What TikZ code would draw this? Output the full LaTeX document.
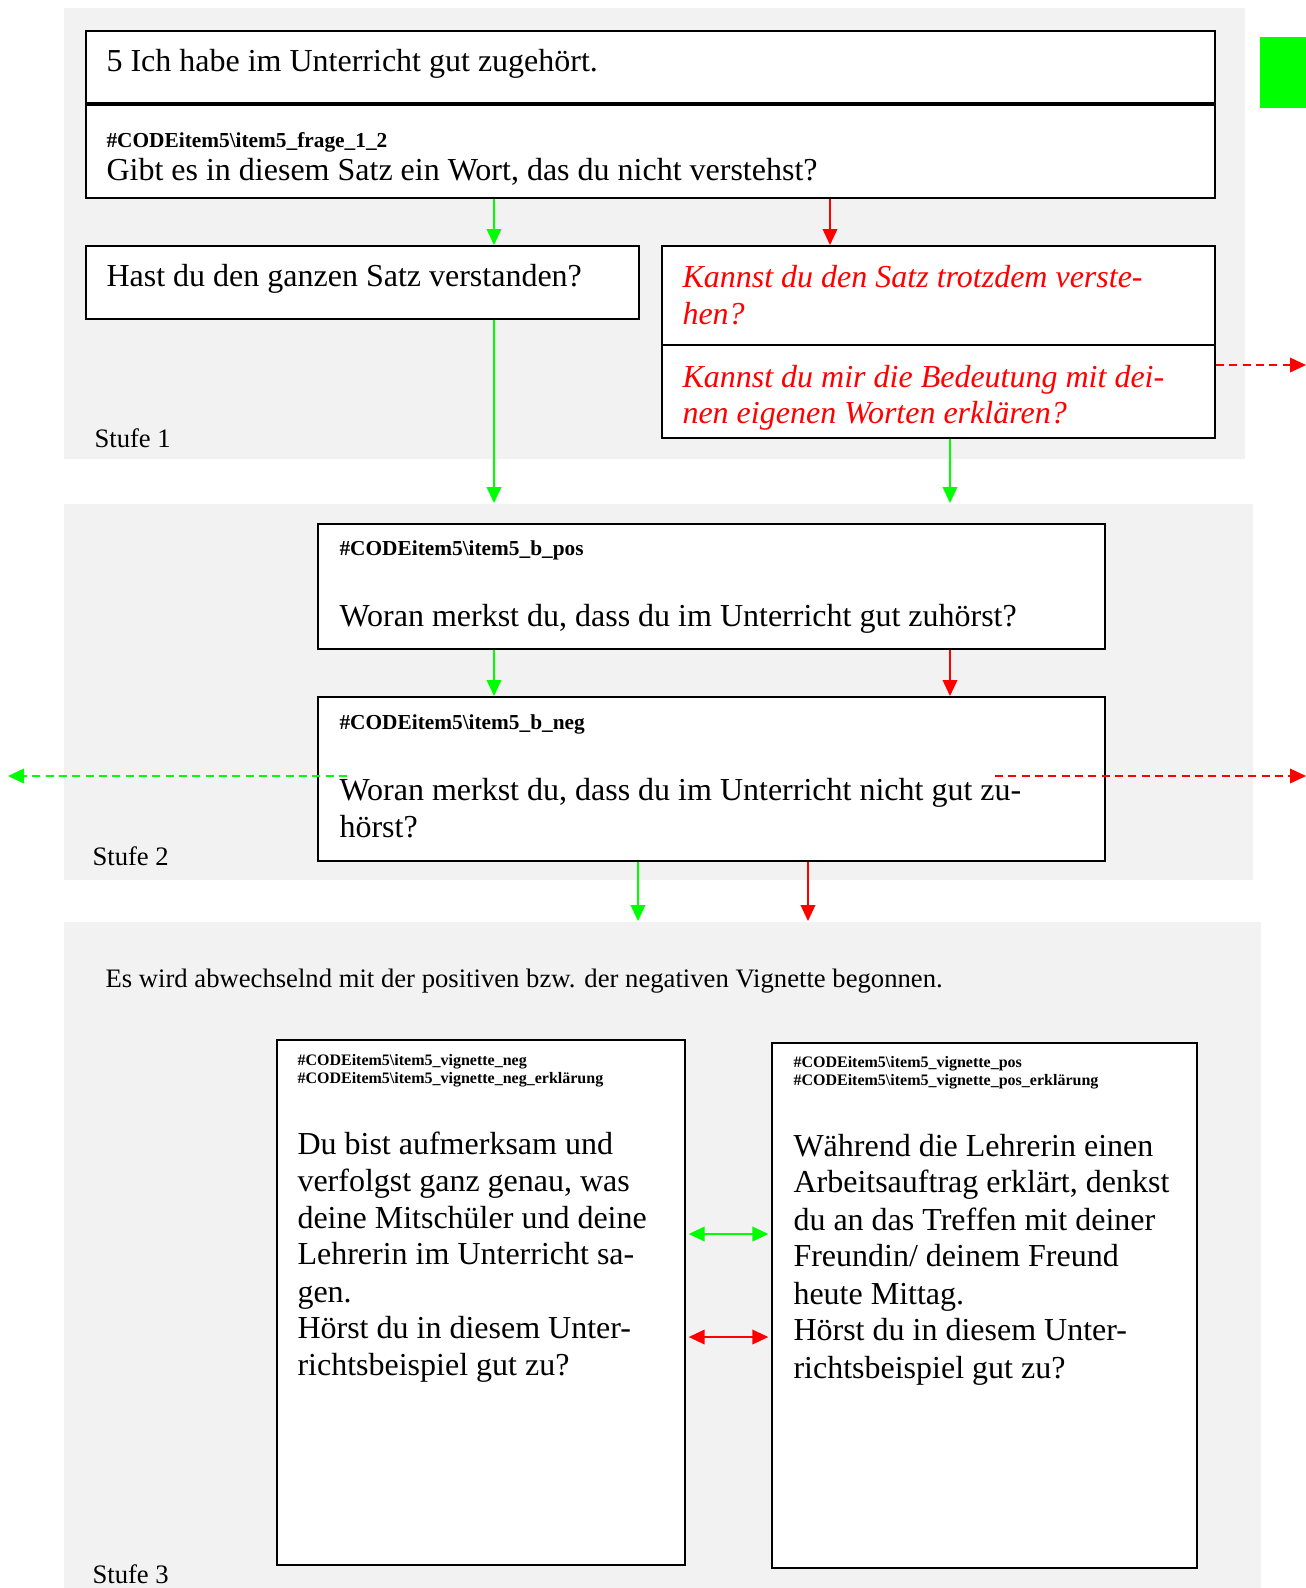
\documentclass[tikz,border=0pt]{standalone}
\usepackage{fontspec}
\setmainfont{Liberation Serif}
\usetikzlibrary{arrows.meta,fit}
\definecolor{panel}{HTML}{F2F2F2}
\definecolor{grn}{HTML}{00FF00}
\definecolor{rd}{HTML}{FF0000}
\begin{document}
\begin{tikzpicture}[x=0.375pt,y=-0.375pt,
  panelbg/.style={fill=panel,draw=none,inner sep=0pt},
  box/.style={draw=black,line width=0.75pt,fill=white,inner sep=0pt},
  txt/.style={anchor=base west,inner sep=0pt,yshift=-0.75pt,font=\fontsize{12}{14}\selectfont},
  rtxt/.style={anchor=base west,inner sep=0pt,yshift=-0.75pt,text=rd,font=\fontsize{12}{14}\selectfont\itshape},
  code/.style={anchor=base west,inner sep=0pt,yshift=-0.5pt,font=\fontsize{8}{9}\selectfont\bfseries},
  scode/.style={anchor=base west,inner sep=0pt,yshift=-0.5pt,font=\fontsize{6}{7}\selectfont\bfseries},
  stufe/.style={anchor=base west,inner sep=0pt,yshift=-0.5pt,font=\fontsize{10}{12}\selectfont},
  tip/.style={},
  ga/.style={draw=grn,line width=0.6pt,-{Triangle[length=6pt,width=5.5pt]}},
  ra/.style={draw=rd,line width=0.6pt,-{Triangle[length=6pt,width=5.5pt]}},
  gdash/.style={ga,dash pattern=on 3pt off 2pt},
  rdash/.style={ra,dash pattern=on 3pt off 2pt},
  gboth/.style={draw=grn,line width=0.6pt,{Triangle[length=6pt,width=5.5pt]}-{Triangle[length=6pt,width=5.5pt]}},
  rboth/.style={draw=rd,line width=0.6pt,{Triangle[length=6pt,width=5.5pt]}-{Triangle[length=6pt,width=5.5pt]}}
]
\useasboundingbox (0,0) rectangle (1306,1588);
\fill[white] (0,0) rectangle (1306,1588);

% panels
\node[panelbg,fit={(64,8) (1245,459)}] (p1) {};
\node[panelbg,fit={(64,504) (1253,880)}] (p2) {};
\node[panelbg,fit={(64,922) (1261,1588)}] (p3) {};
\node[fill=grn,draw=none,inner sep=0pt,fit={(1260,37) (1306,108)}] (gsq) {};

% Stufe 1 boxes
\node[box,fit={(86,31) (1215,103)}] (A) {};
\node[box,fit={(86,103) (1215,198)}] (B) {};
\draw[line width=1.2pt] (A.south west) -- (A.south east);
\node[box,fit={(86,246) (639,319)}] (C) {};
\node[box,fit={(662,246) (1215,345)}] (D) {};
\node[box,fit={(662,345) (1215,438)}] (E) {};

% Stufe 2 boxes
\node[box,fit={(318,524) (1105,649)}] (F) {};
\node[box,fit={(318,697) (1105,861)}] (G) {};

% Stufe 3 boxes
\node[box,fit={(277,1040) (685,1565)}] (H) {};
\node[box,fit={(772,1043) (1197,1568)}] (I) {};

% texts Stufe 1
\node[txt] (tA) at (106,69) {5 Ich habe im Unterricht gut zugehört.};
\node[code] (tBc) at (106,146) {\#CODEitem5\textbackslash item5\_frage\_1\_2};
\node[txt] (tB) at (106,178) {Gibt es in diesem Satz ein Wort, das du nicht verstehst?};
\node[txt] (tC) at (106,284) {Hast du den ganzen Satz verstanden?};
\node[rtxt] (tD1) at (682,285) {Kannst du den Satz trotzdem verste-};
\node[rtxt] (tD2) at (682,322) {hen?};
\node[rtxt] (tE1) at (682,385) {Kannst du mir die Bedeutung mit dei-};
\node[rtxt] (tE2) at (682,421) {nen eigenen Worten erklären?};
\node[stufe] (s1) at (94,446) {Stufe 1};

% texts Stufe 2
\node[code] (tFc) at (339,554) {\#CODEitem5\textbackslash item5\_b\_pos};
\node[txt] (tF) at (339,624) {Woran merkst du, dass du im Unterricht gut zuhörst?};
\node[code] (tGc) at (339,728) {\#CODEitem5\textbackslash item5\_b\_neg};
\node[txt] (tG1) at (339,798) {Woran merkst du, dass du im Unterricht nicht gut zu-};
\node[txt] (tG2) at (339,835) {hörst?};
\node[stufe] (s2) at (92,864) {Stufe 2};

% texts Stufe 3
\node[stufe] (tEs) at (105,986) {Es wird abwechselnd mit der positiven bzw. der negativen Vignette begonnen.};
\node[scode] (tHc1) at (297,1064) {\#CODEitem5\textbackslash item5\_vignette\_neg};
\node[scode] (tHc2) at (297,1082) {\#CODEitem5\textbackslash item5\_vignette\_neg\_erklärung};
\node[txt] (h1) at (297,1152) {Du bist aufmerksam und};
\node[txt] (h2) at (297,1189) {verfolgst ganz genau, was};
\node[txt] (h3) at (297,1226) {deine Mitschüler und deine};
\node[txt] (h4) at (297,1262) {Lehrerin im Unterricht sa-};
\node[txt] (h5) at (297,1300) {gen.};
\node[txt] (h6) at (297,1336) {Hörst du in diesem Unter-};
\node[txt] (h7) at (297,1373) {richtsbeispiel gut zu?};
\node[scode] (tIc1) at (793,1066) {\#CODEitem5\textbackslash item5\_vignette\_pos};
\node[scode] (tIc2) at (793,1084) {\#CODEitem5\textbackslash item5\_vignette\_pos\_erklärung};
\node[txt] (i1) at (793,1154) {Während die Lehrerin einen};
\node[txt] (i2) at (793,1190) {Arbeitsauftrag erklärt, denkst};
\node[txt] (i3) at (793,1228) {du an das Treffen mit deiner};
\node[txt] (i4) at (793,1264) {Freundin/ deinem Freund};
\node[txt] (i5) at (793,1302) {heute Mittag.};
\node[txt] (i6) at (793,1338) {Hörst du in diesem Unter-};
\node[txt] (i7) at (793,1376) {richtsbeispiel gut zu?};
\node[stufe] (s3) at (92,1582) {Stufe 3};

% helper coordinates
\coordinate (xg1) at (494,0);
\coordinate (xr1) at (830,0);
\coordinate (xr2) at (950,0);
\coordinate (xg3) at (638,0);
\coordinate (xr3) at (808,0);
\coordinate (end2) at (0,503);
\coordinate (end3) at (0,921);
\coordinate (eR) at (1306,365);
\coordinate (gS) at (347,776);
\coordinate (gL) at (8,776);
\coordinate (rS) at (995,776);
\coordinate (rR) at (1306,776);
\coordinate (yg) at (0,1234);
\coordinate (yr) at (0,1337);

% connectors
\draw[ga] (B.south -| xg1) -- (C.north -| xg1);
\draw[ra] (B.south -| xr1) -- (D.north -| xr1);
\draw[ga] (C.south -| xg1) -- (end2 -| xg1);
\draw[ga] (E.south -| xr2) -- (end2 -| xr2);
\draw[ga] (F.south -| xg1) -- (G.north -| xg1);
\draw[ra] (F.south -| xr2) -- (G.north -| xr2);
\draw[ga] (G.south -| xg3) -- (end3 -| xg3);
\draw[ra] (G.south -| xr3) -- (end3 -| xr3);
\draw[rdash] (E.east |- eR) -- (eR);
\draw[gdash] (gS) -- (gL);
\draw[rdash] (rS) -- (rR);
\draw[gboth,shorten <=1pt,shorten >=1pt] (H.east |- yg) -- (I.west |- yg);
\draw[rboth,shorten <=1pt,shorten >=1pt] (H.east |- yr) -- (I.west |- yr);
\end{tikzpicture}
\end{document}
